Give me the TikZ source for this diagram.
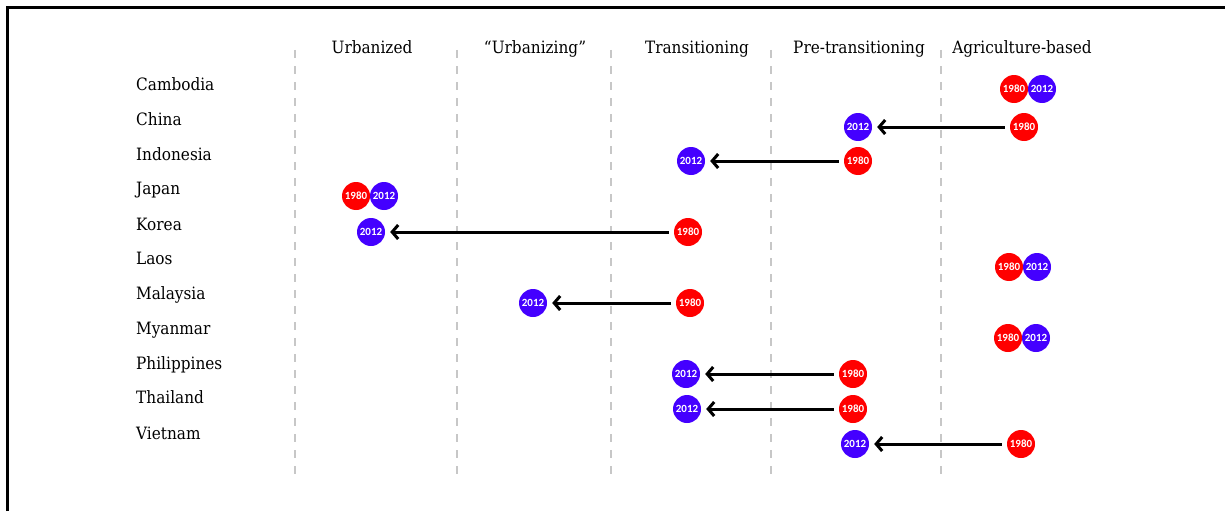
\documentclass[tikz,border=0pt]{standalone}
\usepackage{fontspec}
\setmainfont{DejaVu Serif Condensed}
\newfontfamily\yearfont{Carlito}
\usetikzlibrary{arrows.meta}
\definecolor{yrred}{RGB}{255,0,0}
\definecolor{yrblue}{RGB}{68,0,255}
\tikzset{
  year/.style={circle,minimum size=28pt,inner sep=0pt,text=white,
    font=\yearfont\bfseries\fontsize{11}{12}\selectfont},
  y80/.style={year,fill=yrred},
  y12/.style={year,fill=yrblue},
  shift arrow/.style={line width=3pt,-{Straight Barb[length=6pt,width=14pt]},
    shorten <=5pt,shorten >=5pt},
  stage/.style={anchor=base,font=\fontsize{17}{19}\selectfont},
  country/.style={anchor=base west,inner sep=0pt,font=\fontsize{17}{19}\selectfont},
  divider/.style={black!22,line width=1.4pt,dash pattern=on 8pt off 8pt}
}
\begin{document}
\begin{tikzpicture}[x=1pt,y=-1pt]
  \useasboundingbox (0,0) rectangle (1225,511);
  \draw[line width=2.6pt] (7.5,511) -- (7.5,7.5) -- (1225,7.5);
  % stage boundaries
  \foreach \x in {295,457,611,771,941}
    \draw[divider] (\x,50) -- (\x,476);
  % stages
  \foreach \t/\x [count=\i] in {Urbanized/372,“Urbanizing”/535,Transitioning/697,
      Pre-transitioning/859,Agriculture-based/1022}
    \node[stage] (stage\i) at (\x,54) {\t};
  % countries: name/baseline/circle row/x of 1980/x of 2012
  \foreach \t/\n/\b/\y/\a/\c in {
      Cambodia/cambodia/90/89/1014/1042,
      China/china/125/127/1024/858,
      Indonesia/indonesia/160/161/858/691,
      Japan/japan/194/196/356/384,
      Korea/korea/230/232/688/371,
      Laos/laos/264/267/1009/1037,
      Malaysia/malaysia/299/303/690/533,
      Myanmar/myanmar/334/338/1008/1036,
      Philippines/philippines/369/374/853/686,
      Thailand/thailand/403/409/853/687,
      Vietnam/vietnam/439/444/1021/855}{
    \node[country] (\n) at (136,\b) {\t};
    \node[y80] (\n80) at (\a,\y) {1980};
    \node[y12] (\n12) at (\c,\y) {2012};
  }
  % moves between 1980 and 2012
  \foreach \n in {china,indonesia,korea,malaysia,philippines,thailand,vietnam}
    \draw[shift arrow] (\n80) -- (\n12);
\end{tikzpicture}
\end{document}
